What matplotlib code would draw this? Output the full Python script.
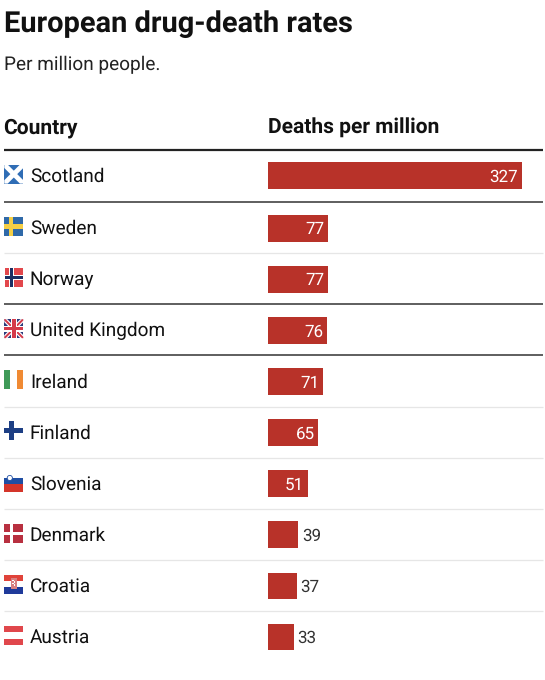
import matplotlib
matplotlib.use("Agg")
import matplotlib.pyplot as plt
from matplotlib.patches import Rectangle, Polygon, Circle

plt.rcParams['font.family'] = ['Roboto', 'DejaVu Sans']
plt.rcParams['text.hinting'] = 'no_hinting'
plt.rcParams['text.hinting_factor'] = 1

countries = ["Scotland", "Sweden", "Norway", "United Kingdom", "Ireland",
             "Finland", "Slovenia", "Denmark", "Croatia", "Austria"]
deaths = [327, 77, 77, 76, 71, 65, 51, 39, 37, 33]
title = "European drug-death rates"
subtitle = "Per million people."
col_headers = ["Country", "Deaths per million"]

W, H = 545, 680
BAR_X0, BAR_X327 = 268, 522
INK = "#111111"
RED = "#b83229"

fig = plt.figure(figsize=(W / 100, H / 100), dpi=100)
ax = fig.add_axes([0, 0, 1, 1])
ax.set_xlim(0, W)
ax.set_ylim(H, 0)
ax.axis("off")

scale = (BAR_X327 - BAR_X0) / 327
bx = fig.add_axes([BAR_X0 / W, 0, (W - BAR_X0) / W, 1])
bx.set_xlim(0, (W - BAR_X0) / scale)
bx.set_ylim(H, 0)
bx.axis("off")


def row_center(i):
    return 175.8 if i == 0 else 228.2 + (i - 1) * 51.1


ax.text(4, 32, title, fontsize=21.0, fontweight="bold", color=INK, va="baseline", ha="left")
ax.text(4, 70, subtitle, fontsize=13.5, color="#222222", va="baseline", ha="left")
ax.text(3.5, 133.4, col_headers[0], fontsize=14.8, fontweight="bold", color=INK, va="baseline", ha="left")
ax.text(268, 133.4, col_headers[1], fontsize=14.8, fontweight="bold", color=INK, va="baseline", ha="left")

ax.plot([4, 543], [150, 150], color="#222222", lw=1.6, solid_capstyle="butt")
dark_after = {0, 2, 3}
for i in range(len(countries) - 1):
    y = (row_center(i) + row_center(i + 1)) / 2 - 0.5
    dark = i in dark_after
    ax.plot([4, 543], [y, y], color="#333333" if dark else "#e6e6e6",
            lw=1.1 if dark else 0.9, solid_capstyle="butt")


def rect(x, y, w, h, c, z=3):
    ax.add_patch(Rectangle((x, y), w, h, fc=c, ec="none", zorder=z))


def poly(pts, c, z=4):
    ax.add_patch(Polygon(pts, closed=True, fc=c, ec="none", zorder=z))


def cross(x, y, w, h, bg, fg, t=4.0, inner=None, tin=2.0):
    rect(x, y, w, h, bg)
    cx = x + w * 0.36
    rect(cx - t / 2, y, t, h, fg, 4)
    rect(x, y + h / 2 - t / 2, w, t, fg, 4)
    if inner:
        rect(cx - tin / 2, y, tin, h, inner, 5)
        rect(x, y + h / 2 - tin / 2, w, tin, inner, 5)


def diag(x, y, w, h, c, t, z=4):
    poly([(x, y), (x + t, y), (x + w, y + h - t), (x + w, y + h), (x + w - t, y + h), (x, y + t)], c, z)
    poly([(x + w, y), (x + w, y + t), (x + t, y + h), (x, y + h), (x, y + h - t), (x + w - t, y)], c, z)


def flag(name, cy):
    x, w, h = 4.3, 19, 19
    y = cy - 1.7 - h / 2
    if name == "Scotland":
        rect(x, y, w, h, "#2f6db5")
        diag(x, y, w, h, "white", 3.4)
    elif name == "Sweden":
        cross(x, y, w, h, "#2f69a8", "#f5cf45", t=4.2)
    elif name == "Norway":
        cross(x + 0.5, y, w - 0.5, h, "#e2474c", "white", t=4.6, inner="#1c2f63", tin=2.4)
    elif name == "United Kingdom":
        rect(x, y, w, h, "#2b3a7a")
        diag(x, y, w, h, "white", 3.0)
        diag(x, y, w, h, "#d43a4a", 1.4, 5)
        rect(x + w / 2 - 3, y, 6, h, "white", 6)
        rect(x, y + h / 2 - 3, w, 6, "white", 6)
        rect(x + w / 2 - 1.7, y, 3.4, h, "#d43a4a", 7)
        rect(x, y + h / 2 - 1.7, w, 3.4, "#d43a4a", 7)
    elif name == "Ireland":
        rect(x, y, 6, h, "#3f9a58")
        rect(x + 12.5, y, 6.5, h, "#f08a33")
    elif name == "Finland":
        cross(x, y, w, h, "white", "#1d3f84", t=5.0)
    elif name == "Slovenia":
        rect(x, y + 5.5, w, 6, "#1f4ea3")
        rect(x, y + 11, w, 8, "#d4352a")
        ax.add_patch(Circle((x + 5.5, y + 5.5), 2.6, fc="white", ec="#1f4ea3", lw=0.6, zorder=5))
    elif name == "Denmark":
        cross(x, y, w, h, "#b83040", "white", t=3.0)
    elif name == "Croatia":
        rect(x, y, w, 6.3, "#e0433a")
        rect(x, y + 12.7, w, 6.3, "#1f3a9a")
        rect(x, y + 6.3, w, 6.4, "white")
        rect(x + 6.5, y + 3.5, 6, 11, "#d98080", 5)
        rect(x + 8, y + 5, 1.5, 1.5, "white", 6)
        rect(x + 9.5, y + 6.5, 1.5, 1.5, "white", 6)
        rect(x + 8, y + 8, 1.5, 1.5, "white", 6)
        rect(x + 9.5, y + 9.5, 1.5, 1.5, "white", 6)
    elif name == "Austria":
        rect(x, y, w, 6.3, "#e0474c")
        rect(x, y + 12.7, w, 6.3, "#e0474c")


centers = [row_center(i) for i in range(len(countries))]
bx.barh(centers, deaths, height=26.7, color=RED, linewidth=0)

for c, v, name in zip(centers, deaths, countries):
    flag(name, c)
    ax.text(29.8, c + 6, name, fontsize=13.7, color=INK, va="baseline", ha="left")
    if v >= 50:
        bx.annotate(str(v), (v, c + 6), xytext=(-3.8, 0), textcoords="offset pixels",
                    fontsize=12.2, color="white", va="baseline", ha="right")
    else:
        bx.annotate(str(v), (v, c + 6), xytext=(3.5, 0), textcoords="offset pixels",
                    fontsize=12.2, color="#333333", va="baseline", ha="left")

fig.savefig("out.png", dpi=100, facecolor="white")
